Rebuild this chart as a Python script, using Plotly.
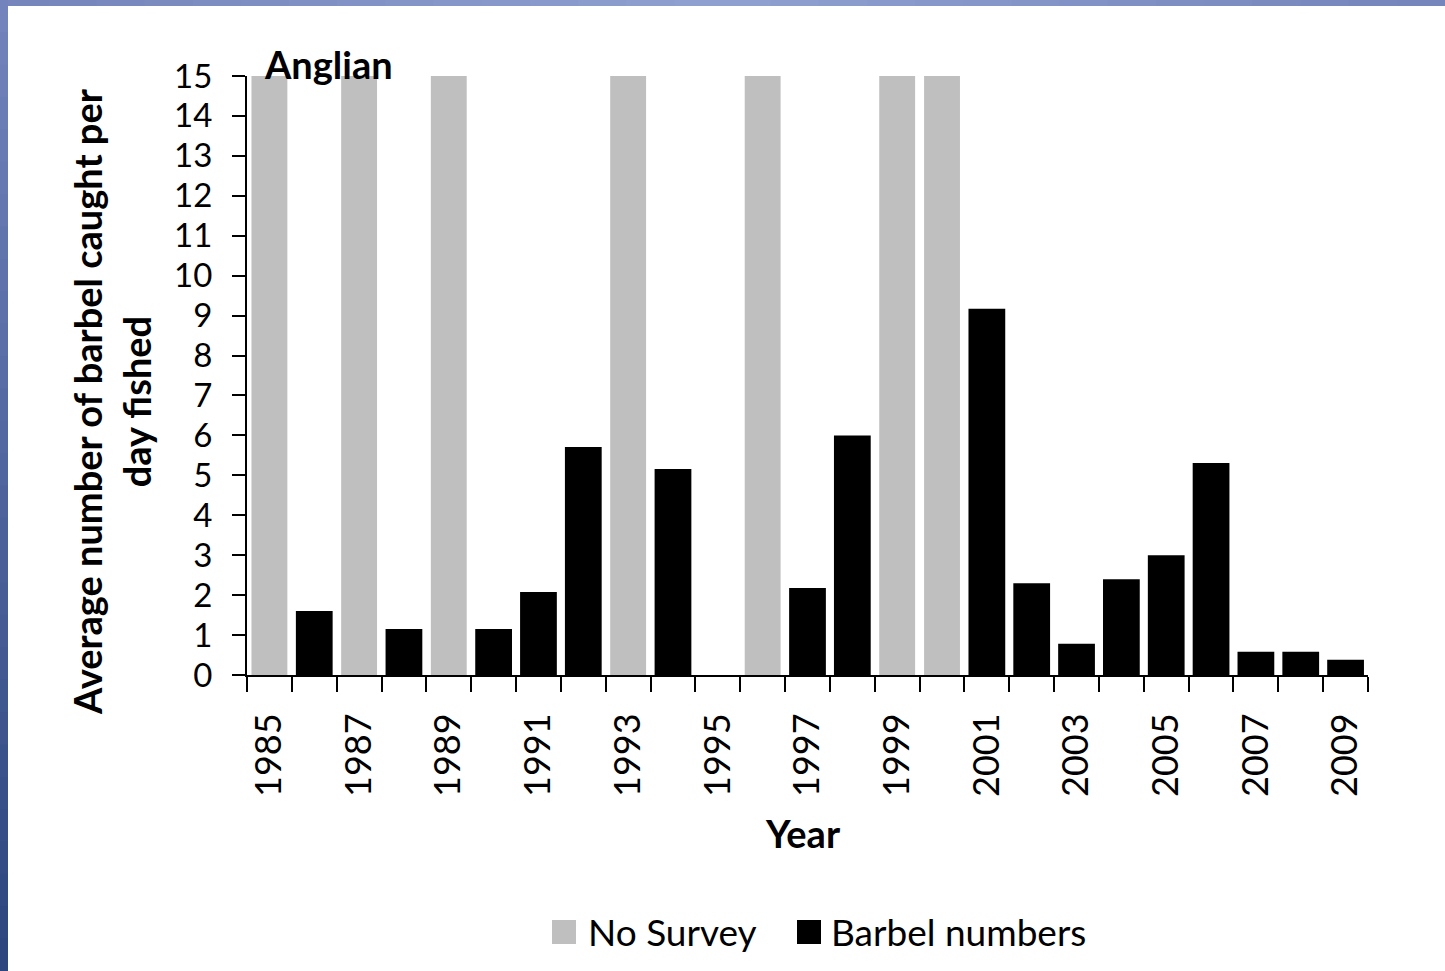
import plotly.graph_objects as go

years = list(range(1985, 2010))
no_survey = [15, None, 15, None, 15, None, None, None, 15, None, None, 15, None, None, 15, 15,
             None, None, None, None, None, None, None, None, None]
barbel = [None, 1.6, None, 1.15, None, 1.15, 2.08, 5.71, None, 5.16, 0, None, 2.18, 6.0, None, None,
          9.17, 2.3, 0.78, 2.4, 3.0, 5.31, 0.58, 0.58, 0.38]
tick_years = list(range(1985, 2010, 2))
series_names = ["No Survey", "Barbel numbers"]
series_colors = ["#bfbfbf", "#000000"]

W, H = 1445, 971
L, R, T, B = 247, 1368, 76, 675
PW, PH = R - L, B - T

def px(x):
    return (x - L) / PW

def py(y):
    return (B - y) / PH

FONT = "Lato"
XTICK = 36
YTICK = 33
TITLE = 38
LEG = 37

fig = go.Figure()
fig.add_trace(go.Bar(x=years, y=no_survey, name=series_names[0], marker_color=series_colors[0],
                     marker_line_width=0, width=0.8, showlegend=False))
fig.add_trace(go.Bar(x=years, y=barbel, name=series_names[1], marker_color=series_colors[1],
                     marker_line_width=0, width=0.82, showlegend=False))

shapes = []
# top strip gradient
m = 30
t0 = (0x76, 0x86, 0xbd)
t1 = (0x90, 0xa0, 0xd0)
for i in range(m):
    t = i / (m - 1)
    tt = 1 - abs(2 * t - 1)
    c = tuple(int(t0[k] + (t1[k] - t0[k]) * tt) for k in range(3))
    x0 = W * i / m
    x1 = W * (i + 1) / m + 1
    shapes.append(dict(type="rect", xref="paper", yref="paper", x0=px(x0), x1=px(x1), y0=py(0), y1=py(6),
                       fillcolor="rgb(%d,%d,%d)" % c, line_width=0, layer="above"))
# left strip gradient
n = 30
c0 = (0x73, 0x84, 0xbc)
c1 = (0x2c, 0x46, 0x80)
for i in range(n):
    t = i / (n - 1)
    c = tuple(int(c0[k] + (c1[k] - c0[k]) * t) for k in range(3))
    y0 = H * i / n
    y1 = H * (i + 1) / n + 1
    shapes.append(dict(type="rect", xref="paper", yref="paper", x0=px(0), x1=px(8),
                       y0=py(y0), y1=py(y1), fillcolor="rgb(%d,%d,%d)" % c, line_width=0, layer="above"))

annotations = [
    dict(text="<b>Anglian</b>", xref="paper", yref="paper", x=px(262), y=py(64),
         xanchor="left", yanchor="middle", showarrow=False, font=dict(family=FONT, size=TITLE, color="#000")),
    dict(text="<b>Average number of barbel caught per<br>day fished</b>", xref="paper", yref="paper",
         x=px(111), y=py(402), xanchor="center", yanchor="middle", textangle=-90, showarrow=False,
         font=dict(family=FONT, size=TITLE, color="#000")),
    dict(text="<b>Year</b>", xref="paper", yref="paper", x=px(803), y=py(833),
         xanchor="center", yanchor="middle", showarrow=False, font=dict(family=FONT, size=TITLE, color="#000")),
]

# legend (drawn as key squares + labels)
leg_sq_x = [552, 797]
leg_txt_x = [586, 829]
for i in range(2):
    shapes.append(dict(type="rect", xref="paper", yref="paper",
                       x0=px(leg_sq_x[i]), x1=px(leg_sq_x[i] + 24), y0=py(920), y1=py(944),
                       fillcolor=series_colors[i], line_width=0))
    annotations.append(dict(text=series_names[i], xref="paper", yref="paper", x=px(leg_txt_x[i]), y=py(931),
                            xanchor="left", yanchor="middle", showarrow=False,
                            font=dict(family=FONT, size=LEG, color="#000")))

fig.update_layout(
    width=W, height=H,
    margin=dict(l=L, r=W - R, t=T, b=H - B, pad=0),
    paper_bgcolor="white", plot_bgcolor="white",
    barmode="overlay",
    font=dict(family=FONT, size=XTICK, color="#000"),
    showlegend=False,
    shapes=shapes,
    annotations=annotations,
    xaxis=dict(range=[1984.5, 2009.5], tickmode="array", tickvals=tick_years,
               ticktext=[str(y) for y in tick_years], tickangle=-90, ticks="",
               showline=True, linecolor="#000", linewidth=2, showgrid=False, zeroline=False,
               ticklabelstandoff=22,
               tickfont=dict(family=FONT, size=XTICK, color="#000"),
               minor=dict(tickmode="array", tickvals=[y - 0.5 for y in years] + [2009.5],
                          ticks="outside", ticklen=15, tickwidth=2, tickcolor="#000", showgrid=False)),
    yaxis=dict(range=[0, 15], dtick=1, tick0=0, ticks="outside", ticklen=13, tickwidth=2, tickcolor="#000",
               showline=True, linecolor="#000", linewidth=2, showgrid=False, zeroline=False,
               ticklabelstandoff=13,
               tickfont=dict(family=FONT, size=YTICK, color="#000")),
)

fig.write_html("out.html", config={"displayModeBar": False},
               post_script="document.body.style.margin='0';")
